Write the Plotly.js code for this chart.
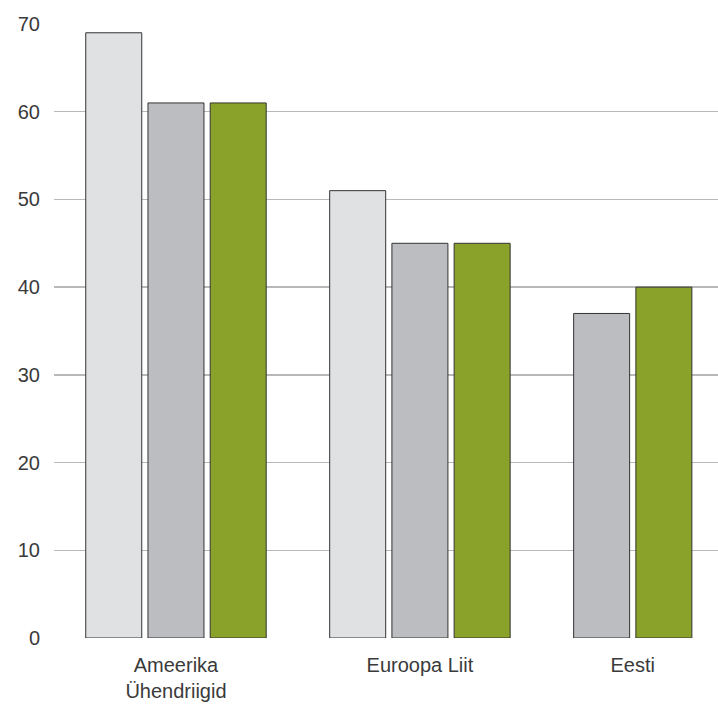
<!DOCTYPE html>
<html>
<head>
<meta charset="utf-8">
<script src="https://cdn.plot.ly/plotly-3.0.1.min.js"></script>
<style>html,body{margin:0;padding:0;background:#fff;}#chart{width:718px;height:707px;}</style>
</head>
<body>
<div id="chart"></div>
<script>
// Data
var categories = ["Ameerika<br>Ühendriigid", "Euroopa Liit", "Eesti"];
var series1 = [69, 51, null];
var series2 = [61, 45, 37];
var series3 = [61, 45, 40];
var yTicks = [0, 10, 20, 30, 40, 50, 60, 70];

var seriesList = [series1, series2, series3];
var colors = ["#e0e1e3", "#bcbdc1", "#8aa22a"];

// Layout positions computed from data: bars packed per group, missing bars omitted
var groupGap = 0.92;
var xs = seriesList.map(function(){ return []; });
var ys = seriesList.map(function(){ return []; });
var centers = [];
var pos = 0;
categories.forEach(function(cat, ci){
  var pts = [];
  seriesList.forEach(function(s, si){
    if (s[ci] !== null && s[ci] !== undefined) {
      xs[si].push(pos); ys[si].push(s[ci]); pts.push(pos); pos += 1;
    }
  });
  centers.push((pts[0] + pts[pts.length-1]) / 2);
  pos += groupGap;
});

var traces = seriesList.map(function(s, si){
  return {
    type: 'bar', x: xs[si], y: ys[si], width: 0.9,
    marker: {color: colors[si], line: {color: '#333333', width: 1}},
    hoverinfo: 'y', showlegend: false
  };
});

var font = {family: '"Liberation Sans", Arial, sans-serif', size: 20, color: '#3a3a3a'};
var layout = {
  width: 718, height: 707,
  margin: {l: 54, r: 0, t: 24, b: 69},
  paper_bgcolor: '#ffffff', plot_bgcolor: '#ffffff',
  barmode: 'overlay',
  font: font,
  showlegend: false,
  xaxis: {
    range: [-0.96, 9.71],
    tickmode: 'array', tickvals: centers, ticktext: categories,
    showgrid: false, zeroline: false, showline: false, ticks: '',
    tickfont: font, ticklabelstandoff: 13, fixedrange: true
  },
  yaxis: {
    range: [0, 70],
    tickmode: 'array', tickvals: yTicks, ticktext: yTicks.map(String),
    showgrid: true, gridcolor: '#b9b9b9', gridwidth: 1.3,
    zeroline: false, showline: false, ticks: '',
    tickfont: font, ticklabelstandoff: 13, fixedrange: true
  }
};

Plotly.newPlot('chart', traces, layout, {displayModeBar: false, staticPlot: true});
</script>
</body>
</html>
